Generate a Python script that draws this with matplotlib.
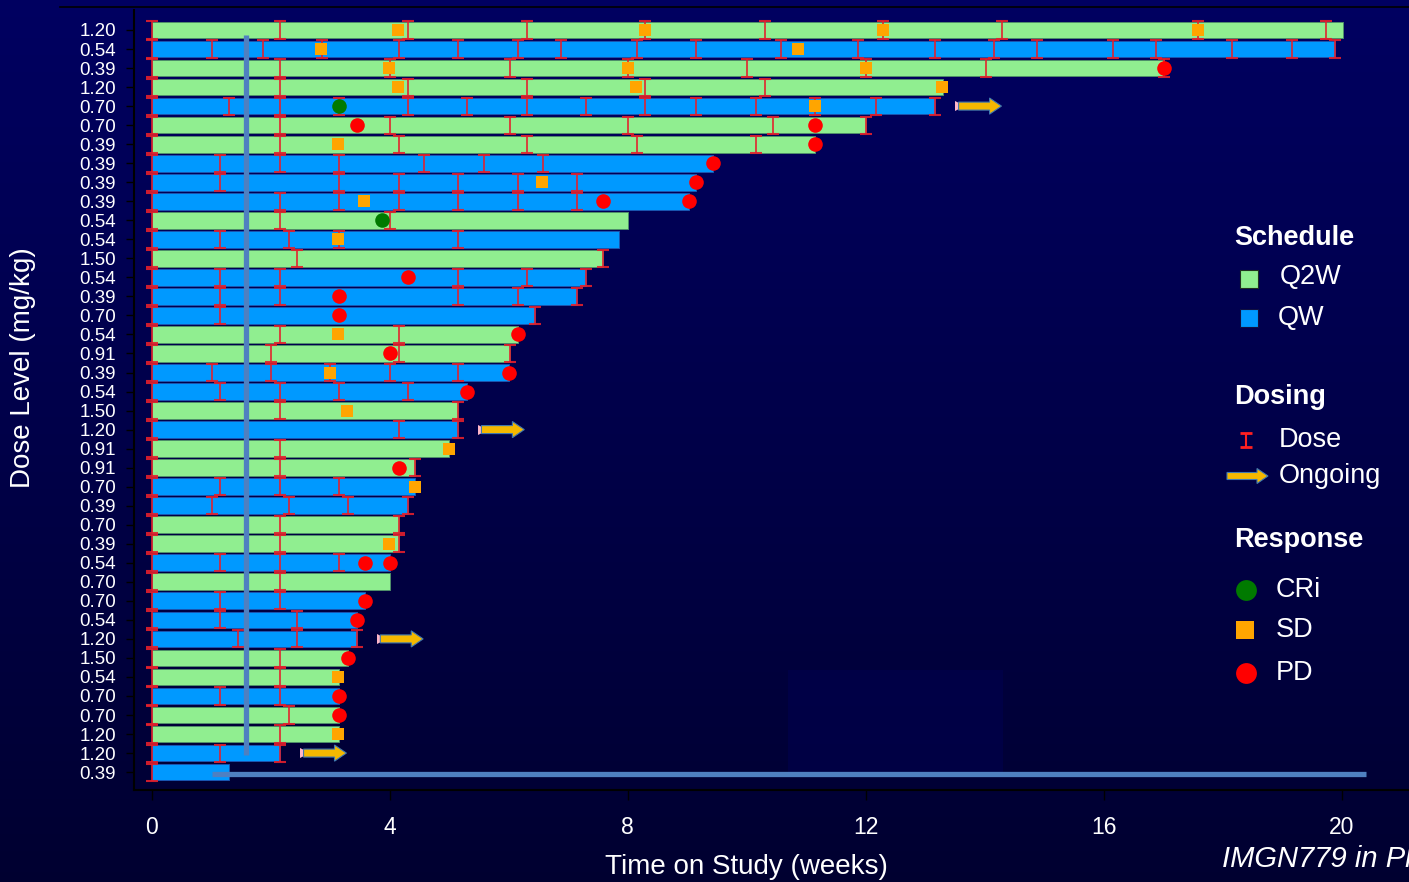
import numpy as np
import matplotlib
matplotlib.use('Agg')
import matplotlib.pyplot as plt
from matplotlib.patches import Rectangle

plt.rcParams['font.family'] = ['Liberation Sans', 'DejaVu Sans']

# dose level per patient, top to bottom
dose_level = ["1.20", "0.54", "0.39", "1.20", "0.70", "0.70", "0.39", "0.39", "0.39", "0.39",
              "0.54", "0.54", "1.50", "0.54", "0.39", "0.70", "0.54", "0.91", "0.39", "0.54",
              "1.50", "1.20", "0.91", "0.91", "0.70", "0.39", "0.70", "0.39", "0.54", "0.70",
              "0.70", "0.54", "1.20", "1.50", "0.54", "0.70", "0.70", "1.20", "1.20", "0.39"]
schedule = ["Q2W", "QW", "Q2W", "Q2W", "QW", "Q2W", "Q2W", "QW", "QW", "QW",
            "Q2W", "QW", "Q2W", "QW", "QW", "QW", "Q2W", "Q2W", "QW", "QW",
            "Q2W", "QW", "Q2W", "Q2W", "QW", "QW", "Q2W", "Q2W", "QW", "Q2W",
            "QW", "QW", "QW", "Q2W", "Q2W", "QW", "Q2W", "Q2W", "QW", "QW"]
# time on study (weeks)
end_wk = [20.02, 19.88, 17.01, 13.30, 13.16, 12.01, 11.15, 9.44, 9.15, 9.02,
          8.00, 7.85, 7.59, 7.29, 7.15, 6.44, 6.15, 6.02, 6.00, 5.29,
          5.14, 5.14, 5.00, 4.43, 4.43, 4.30, 4.16, 4.16, 4.01, 4.01,
          3.58, 3.44, 3.44, 3.29, 3.15, 3.15, 3.15, 3.15, 2.15, 1.30]
# dosing days (weeks)
dose_wk = [
    [0, 2.15, 4.30, 6.30, 8.29, 10.30, 12.29, 14.29, 17.59, 19.74],
    [0, 1.01, 1.86, 2.86, 4.16, 5.14, 6.15, 6.87, 8.15, 9.15, 10.58, 11.87, 13.16, 14.16,
     14.87, 16.16, 16.87, 18.16, 19.17, 19.88],
    [0, 2.15, 4.01, 6.02, 8.00, 10.01, 12.01, 14.02, 17.01],
    [0, 2.15, 4.30, 6.30, 8.29, 10.30],
    [0, 1.30, 2.15, 3.15, 4.30, 5.29, 6.30, 7.29, 8.29, 9.15, 10.15, 11.15, 12.17, 13.16],
    [0, 2.15, 4.01, 6.02, 8.00, 10.44, 12.01],
    [0, 2.15, 4.16, 6.30, 8.15, 10.15],
    [0, 1.15, 2.15, 3.15, 4.58, 5.58, 6.58],
    [0, 1.15, 3.15, 4.16, 5.14, 6.15, 7.15],
    [0, 2.15, 3.15, 4.16, 5.14, 6.15, 7.15],
    [0, 2.15, 4.01],
    [0, 1.15, 2.30, 3.15, 5.14],
    [0, 2.44, 7.59],
    [0, 1.15, 2.15, 5.14, 6.30, 7.29],
    [0, 1.15, 2.15, 5.14, 6.15, 7.15],
    [0, 1.15, 6.44],
    [0, 2.15, 4.16],
    [0, 2.00, 4.16, 6.02],
    [0, 1.01, 2.00, 3.00, 4.01, 5.14],
    [0, 1.15, 2.15, 3.15, 4.30],
    [0, 2.15, 5.14],
    [0, 4.16, 5.14],
    [0, 2.15],
    [0, 2.15, 4.43],
    [0, 1.15, 2.15, 3.15],
    [0, 1.01, 2.30, 3.29, 4.30],
    [0, 2.15, 4.16],
    [0, 2.15, 4.16],
    [0, 1.15, 2.15, 3.15],
    [0, 2.15],
    [0, 1.15, 2.15],
    [0, 1.15, 2.44],
    [0, 1.44, 2.44, 3.44],
    [0, 2.15],
    [0, 2.15],
    [0, 1.15, 2.15],
    [0, 2.30],
    [0, 2.15],
    [0, 1.15, 2.15],
    [0],
]
# responses (row, week)
cri_row = [4, 10]
cri_wk = [3.15, 3.87]
sd_row = [0, 0, 0, 0, 1, 1, 2, 2, 2, 3, 3, 3, 4, 6, 8, 9, 11, 16, 18, 20, 22, 24, 27, 34, 37]
sd_wk = [4.14, 8.29, 12.29, 17.59, 2.85, 10.86, 3.98, 8.00, 12.01, 4.14, 8.14, 13.28, 11.15,
         3.13, 6.56, 3.57, 3.13, 3.13, 3.00, 3.28, 5.00, 4.43, 3.99, 3.13, 3.13]
pd_row = [2, 5, 5, 6, 7, 8, 9, 9, 13, 14, 15, 16, 17, 18, 19, 23, 28, 28, 30, 31, 33, 35, 36]
pd_wk = [17.01, 3.44, 11.15, 11.15, 9.44, 9.15, 7.59, 9.02, 4.30, 3.15, 3.15, 6.15, 4.01,
         6.00, 5.29, 4.16, 3.58, 4.01, 3.58, 3.44, 3.29, 3.15, 3.15]
ongoing_row = [4, 21, 32, 38]

col = {"Q2W": "#90ee90", "QW": "#0099ff"}
edge = {"Q2W": "#4f8f6a", "QW": "#1a55b0"}
GOLD = "#f5b800"

fig = plt.figure(figsize=(14.09, 8.82), dpi=100)

# background gradient
bg = fig.add_axes([0, 0, 1, 1], zorder=-10)
g = np.linspace(0, 1, 256).reshape(-1, 1)
top = np.array([0, 0, 0.38])
bot = np.array([0, 0, 0.19])
img = (top * (1 - g) + bot * g)[:, None, :] * np.ones((1, 2, 1))
bg.imshow(img, aspect='auto', extent=[0, 1, 0, 1], origin='upper')
bg.axis('off')

ax = fig.add_axes([134 / 1409, 92 / 882, 1 - 134 / 1409, 780 / 882])
ax.set_facecolor('none')

rows = np.arange(len(dose_level))
ax.barh(rows, end_wk, height=0.88, left=0,
        color=[col[s] for s in schedule], edgecolor=[edge[s] for s in schedule],
        linewidth=0.7, zorder=2)

for r, dl in enumerate(dose_wk):
    ax.errorbar(dl, [r] * len(dl), yerr=0.45, fmt='none', ecolor='#e3202c',
                elinewidth=1.3, capsize=4.3, capthick=1.5, alpha=0.9, zorder=3)

ax.plot(sd_wk, sd_row, 's', color='#ffa500', ms=9.3, mew=0, zorder=4)
ax.plot(pd_wk, pd_row, 'o', color='#ff0000', ms=10.5, mew=0, zorder=5)
ax.plot(cri_wk, cri_row, 'o', color='#007a00', ms=10.5, mew=0, zorder=5)

for r in ongoing_row:
    x0 = end_wk[r] + 0.4
    ax.plot([x0 + 0.02], [r], '>', color='#ffb6c8', ms=7, mew=0, zorder=3)
    ax.arrow(x0, r, 0.72, 0, width=0.42, head_width=0.85, head_length=0.2,
             length_includes_head=True, fc=GOLD, ec='#3f78b0', lw=0.8, zorder=4)

ax.set_xlim(-0.30, 21.13)
ax.set_ylim(39.94, -1.05)
ax.set_yticks(rows)
ax.set_yticklabels(dose_level)
ax.set_xticks([0, 4, 8, 12, 16, 20])
ax.tick_params(axis='y', colors='black', labelcolor='white', labelsize=13.5,
               length=6, width=1, pad=7)
ax.tick_params(axis='x', colors='black', labelcolor='white', labelsize=16.5,
               length=7, width=1, pad=12)
for s in ['top', 'right']:
    ax.spines[s].set_visible(False)
for s in ['left', 'bottom']:
    ax.spines[s].set_color('black')
    ax.spines[s].set_linewidth(1.5)

ax.set_xlabel('Time on Study (weeks)', color='white', fontsize=20)
ax.xaxis.set_label_coords(0.48, -0.082)
ax.set_ylabel('Dose Level (mg/kg)', color='white', fontsize=20)
ax.yaxis.set_label_coords(-0.077, 0.541)

# overlay in pixel coordinates: legend, slide artefacts, footer
ov = fig.add_axes([0, 0, 1, 1], zorder=5)
ov.set_xlim(0, 1409)
ov.set_ylim(882, 0)
ov.axis('off')
ov.set_facecolor('none')

ov.plot([60, 1409], [7, 7], color='black', lw=1.2)
ov.add_patch(Rectangle((788, 670), 215, 106, facecolor='#000050', alpha=0.55, edgecolor='none'))
ov.plot([246, 246], [35, 755], color='#4f80c0', lw=3.8, solid_capstyle='butt')
ov.plot([212, 1366], [774, 774], color='#4f80c0', lw=3.8, solid_capstyle='butt')

tx = 1234
ov.text(tx, 238, 'Schedule', color='white', fontsize=19.5, fontweight='bold', va='center')
ov.plot(1249, 279, 's', ms=13, color=col['Q2W'], mec='#203020', mew=0.8)
ov.text(1280, 277, 'Q2W', color='white', fontsize=19.5, va='center')
ov.plot(1249, 318, 's', ms=13, color=col['QW'], mec='#101040', mew=0.8)
ov.text(1278, 318, 'QW', color='white', fontsize=19.5, va='center')

ov.text(tx, 397, 'Dosing', color='white', fontsize=19.5, fontweight='bold', va='center')
ov.errorbar([1246], [440], yerr=7, fmt='none', ecolor='#ff2020', elinewidth=1.5,
            capsize=4.5, capthick=2)
ov.text(1279, 440, 'Dose', color='white', fontsize=19.5, va='center')
ov.arrow(1227, 476, 41, 0, width=7, head_width=15, head_length=11,
         length_includes_head=True, fc=GOLD, ec='#3f78b0', lw=0.8)
ov.text(1279, 476, 'Ongoing', color='white', fontsize=19.5, va='center')

ov.text(tx, 540, 'Response', color='white', fontsize=19.5, fontweight='bold', va='center')
ov.plot(1246, 590, 'o', ms=15, color='#007a00', mew=0)
ov.text(1276, 590, 'CRi', color='white', fontsize=19.5, va='center')
ov.plot(1245, 630, 's', ms=13.5, color='#ffa500', mew=0)
ov.text(1276, 630, 'SD', color='white', fontsize=19.5, va='center')
ov.plot(1246, 673, 'o', ms=15, color='#ff0000', mew=0)
ov.text(1276, 673, 'PD', color='white', fontsize=19.5, va='center')

ov.text(1222, 859, 'IMGN779 in Phase 1', color='white', fontsize=21, style='italic',
        va='center', clip_on=False)

fig.savefig('out.png', dpi=100, facecolor='#00004a')
